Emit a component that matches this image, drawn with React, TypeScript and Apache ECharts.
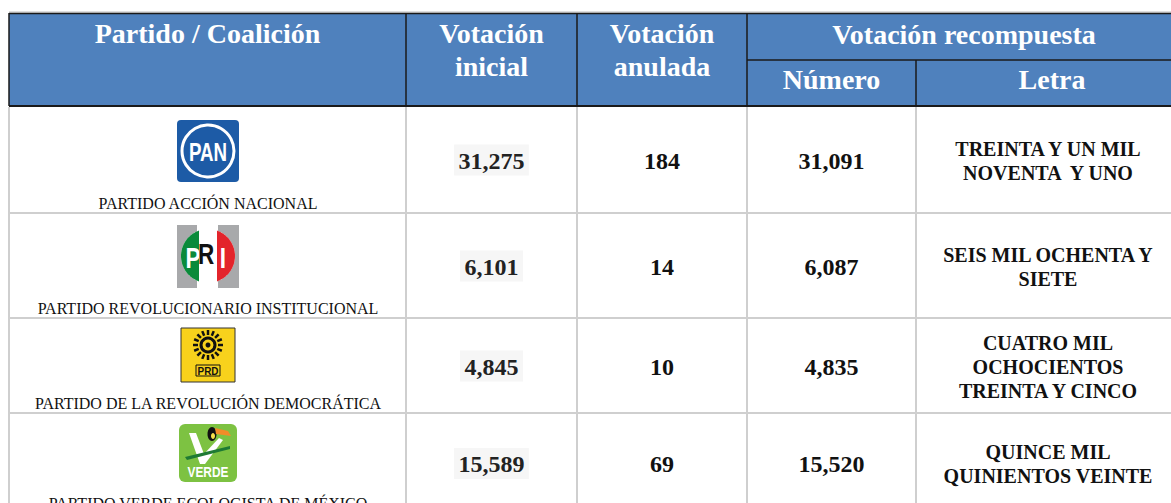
import React, { useEffect, useRef } from "react";
import * as echarts from "echarts";

// ---- data ----
const headerMain = ["Partido / Coalición", "Votación\ninicial", "Votación\nanulada", "Votación recompuesta"];
const headerSub = ["Número", "Letra"];
const parties = [
  "PARTIDO ACCIÓN NACIONAL",
  "PARTIDO REVOLUCIONARIO INSTITUCIONAL",
  "PARTIDO DE LA REVOLUCIÓN DEMOCRÁTICA",
  "PARTIDO VERDE ECOLOGISTA DE MÉXICO",
];
const logos = ["PAN", "PRI", "PRD", "VERDE"];
const initialVotes = [31275, 6101, 4845, 15589];
const annulledVotes = [184, 14, 10, 69];
const recomposedVotes = [31091, 6087, 4835, 15520];
const recomposedWords = [
  "TREINTA Y UN MIL\nNOVENTA  Y UNO",
  "SEIS MIL OCHENTA Y\nSIETE",
  "CUATRO MIL\nOCHOCIENTOS\nTREINTA Y CINCO",
  "QUINCE MIL\nQUINIENTOS VEINTE",
];

// ---- layout ----
const SERIF = '"Liberation Serif", "Times New Roman", serif';
const SANS = '"Liberation Sans", Arial, sans-serif';
const COLS = [9, 406, 577, 747, 916, 1188];
const HEAD_TOP = 13;
const HEAD_MID = 60;
const HEAD_BOT = 106;
const ROW_EDGES = [106, 213, 318, 413, 513];
const HEAD_FILL = "#4f81bd";
const DARK = "#1a1a1a";
const GRID = "#cfcfcf";

const fmt = (n: number) => n.toLocaleString("en-US");

function txt(x: number, y: number, text: string, font: string, fill = "#000", extra: any = {}) {
  return {
    type: "text",
    x,
    y,
    silent: true,
    ...extra,
    style: {
      text,
      x: 0,
      y: 0,
      font,
      fill,
      align: "center",
      verticalAlign: "middle",
      textAlign: "center",
      textVerticalAlign: "middle",
      ...(extra.style || {}),
    },
  };
}

function line(x1: number, y1: number, x2: number, y2: number, stroke: string, lineWidth: number) {
  return { type: "line", silent: true, shape: { x1, y1, x2, y2 }, style: { stroke, lineWidth } };
}

function circlePoly(cx: number, cy: number, r: number, a0: number, a1: number) {
  const pts: number[][] = [];
  const steps = 40;
  for (let i = 0; i <= steps; i++) {
    const a = a0 + ((a1 - a0) * i) / steps;
    pts.push([cx + r * Math.cos(a), cy + r * Math.sin(a)]);
  }
  return pts;
}

function logoPAN(cx: number, top: number) {
  const cy = top + 31;
  return [
    { type: "rect", shape: { x: cx - 31, y: top, width: 62, height: 62, r: 4 }, style: { fill: "#1d5ba6" } },
    { type: "circle", shape: { cx, cy, r: 26 }, style: { fill: "none", stroke: "#fff", lineWidth: 3 } },
    txt(cx, cy + 1, "PAN", `bold 26px ${SANS}`, "#fff", { scaleX: 0.72, style: { stroke: "#1d5ba6", lineWidth: 1 } }),
  ];
}

function logoPRI(cx: number, top: number) {
  const cy = top + 31;
  const r = 27;
  const t = Math.acos(-9 / r);
  return [
    { type: "rect", shape: { x: cx - 31, y: top, width: 20, height: 63 }, style: { fill: "#a8a9ab" } },
    { type: "rect", shape: { x: cx + 10, y: top, width: 21, height: 63 }, style: { fill: "#a8a9ab" } },
    { type: "circle", shape: { cx, cy, r }, style: { fill: "#ffffff" } },
    { type: "polygon", shape: { points: circlePoly(cx, cy, r, t, 2 * Math.PI - t) }, style: { fill: "#0a8a3a" } },
    { type: "polygon", shape: { points: circlePoly(cx, cy, r, -(Math.PI - t), Math.PI - t) }, style: { fill: "#e3242b" } },
    txt(cx - 15, cy + 2, "P", `bold 30px ${SANS}`, "#fff", { scaleX: 0.75 }),
    txt(cx - 2, cy - 2, "R", `bold 30px ${SANS}`, "#111", { scaleX: 0.75 }),
    txt(cx + 15, cy + 2, "I", `bold 30px ${SANS}`, "#fff", { scaleX: 0.75 }),
  ];
}

function logoPRD(cx: number, top: number) {
  const sy = top + 17;
  const els: any[] = [
    { type: "rect", shape: { x: cx - 27, y: top, width: 54, height: 54 }, style: { fill: "#f8d21c", stroke: "#333", lineWidth: 1 } },
    { type: "circle", shape: { cx, cy: sy, r: 7 }, style: { fill: "none", stroke: "#111", lineWidth: 3 } },
    { type: "circle", shape: { cx, cy: sy, r: 2.5 }, style: { fill: "#111" } },
  ];
  for (let i = 0; i < 16; i++) {
    const a = (i * Math.PI * 2) / 16;
    els.push(line(cx + 10 * Math.cos(a), sy + 10 * Math.sin(a), cx + 15 * Math.cos(a), sy + 15 * Math.sin(a), "#111", 2.5));
  }
  els.push({ type: "rect", shape: { x: cx - 12, y: top + 37, width: 24, height: 11 }, style: { fill: "none", stroke: "#111", lineWidth: 1 } });
  els.push(txt(cx, top + 43, "PRD", `bold 11px ${SANS}`, "#111", { scaleX: 0.9 }));
  return els;
}

function logoVERDE(cx: number, top: number) {
  return [
    { type: "rect", shape: { x: cx - 29, y: top, width: 58, height: 58, r: 6 }, style: { fill: "#7dc242" } },
    {
      type: "polygon",
      shape: { points: [[cx - 19, top + 9], [cx - 12, top + 9], [cx - 4, top + 30], [cx + 11, top + 14], [cx + 15, top + 16], [cx - 3, top + 40], [cx - 8, top + 40]] },
      style: { fill: "#ffffff" },
    },
    {
      type: "polygon",
      shape: { points: [[cx - 23, top + 33], [cx + 22, top + 22], [cx + 22, top + 25], [cx - 21, top + 36]] },
      style: { fill: "#1e7a34" },
    },
    { type: "ellipse", shape: { cx: cx + 4, cy: top + 10, rx: 4.5, ry: 7 }, style: { fill: "#111" } },
    { type: "ellipse", shape: { cx: cx + 5, cy: top + 12, rx: 2, ry: 3 }, style: { fill: "#f6e04b" } },
    {
      type: "polygon",
      shape: { points: [[cx + 7, top + 4], [cx + 20, top + 7], [cx + 23, top + 12], [cx + 8, top + 10]] },
      style: { fill: "#f28c28" },
    },
    txt(cx, top + 48, "VERDE", `bold 14px ${SANS}`, "#fff", { scaleX: 0.85 }),
  ];
}

const logoFns: Record<string, (cx: number, top: number) => any[]> = {
  PAN: logoPAN,
  PRI: logoPRI,
  PRD: logoPRD,
  VERDE: logoVERDE,
};
const logoTopOffsets = [14, 12, 10, 11];

function buildGraphic() {
  const els: any[] = [];
  const W = COLS[COLS.length - 1];
  // header background
  els.push({ type: "rect", shape: { x: COLS[0], y: HEAD_TOP, width: W - COLS[0], height: HEAD_BOT - HEAD_TOP }, style: { fill: HEAD_FILL } });
  els.push(line(COLS[0], HEAD_TOP - 1, W, HEAD_TOP - 1, "#bdbdbd", 1));
  els.push(line(COLS[0], HEAD_TOP + 0.5, W, HEAD_TOP + 0.5, DARK, 1.5));
  els.push(line(COLS[0], HEAD_BOT, W, HEAD_BOT, DARK, 2));
  els.push(line(COLS[3], HEAD_MID, W, HEAD_MID, DARK, 1.5));
  [0, 1, 2, 3].forEach((i) => els.push(line(COLS[i], HEAD_TOP, COLS[i], HEAD_BOT, DARK, 1.5)));
  els.push(line(COLS[4], HEAD_MID, COLS[4], HEAD_BOT, DARK, 1.5));

  // header texts
  const hf = `bold 28px ${SERIF}`;
  els.push(txt((COLS[0] + COLS[1]) / 2, 33, headerMain[0], hf, "#fff"));
  els.push(txt((COLS[1] + COLS[2]) / 2, 50, headerMain[1], hf, "#fff", { style: { lineHeight: 33 } }));
  els.push(txt((COLS[2] + COLS[3]) / 2, 50, headerMain[2], hf, "#fff", { style: { lineHeight: 33 } }));
  els.push(txt((COLS[3] + 1181) / 2, 34, headerMain[3], hf, "#fff"));
  els.push(txt((COLS[3] + COLS[4]) / 2, 79, headerSub[0], hf, "#fff"));
  els.push(txt((COLS[4] + 1188) / 2, 79, headerSub[1], hf, "#fff"));

  // body grid
  [0, 1, 2, 3, 4].forEach((i) => els.push(line(COLS[i], HEAD_BOT + 1, COLS[i], 520, GRID, 2)));
  ROW_EDGES.slice(1, 4).forEach((y) => els.push(line(COLS[0], y, W, y, GRID, 2)));

  const nf = `bold 24px ${SERIF}`;
  const wf = `bold 20px ${SERIF}`;
  parties.forEach((name, r) => {
    const top = ROW_EDGES[r];
    const bot = ROW_EDGES[r + 1];
    const cy = (top + bot) / 2 + 1;
    const c0 = (COLS[0] + COLS[1]) / 2 + 0.5;
    els.push(...logoFns[logos[r]](c0, top + logoTopOffsets[r]));
    els.push(txt(c0, bot - 10, name, `16px ${SERIF}`, "#111"));
    const s = fmt(initialVotes[r]);
    const c1 = (COLS[1] + COLS[2]) / 2;
    const w = s.length * 11.8;
    els.push({ type: "rect", silent: true, shape: { x: c1 - w / 2 - 2, y: cy - 16, width: w + 4, height: 31 }, style: { fill: "#f6f6f6" } });
    els.push(txt(c1, cy, s, nf, "#222"));
    els.push(txt((COLS[2] + COLS[3]) / 2, cy, fmt(annulledVotes[r]), nf, "#111"));
    els.push(txt((COLS[3] + COLS[4]) / 2, cy, fmt(recomposedVotes[r]), nf, "#111"));
    els.push(txt(1048, cy, recomposedWords[r], wf, "#111", { style: { lineHeight: 24 } }));
  });
  return els;
}

export default function App() {
  const ref = useRef<HTMLDivElement>(null);
  useEffect(() => {
    if (!ref.current) return;
    const chart = echarts.init(ref.current, undefined, { renderer: "svg" });
    chart.setOption({
      animation: false,
      backgroundColor: "#ffffff",
      graphic: { elements: buildGraphic() },
    });
    return () => chart.dispose();
  }, []);
  return (
    <div
      ref={ref}
      style={{ position: "fixed", left: 0, top: 0, width: 1171, height: 503, background: "#fff" }}
    />
  );
}
